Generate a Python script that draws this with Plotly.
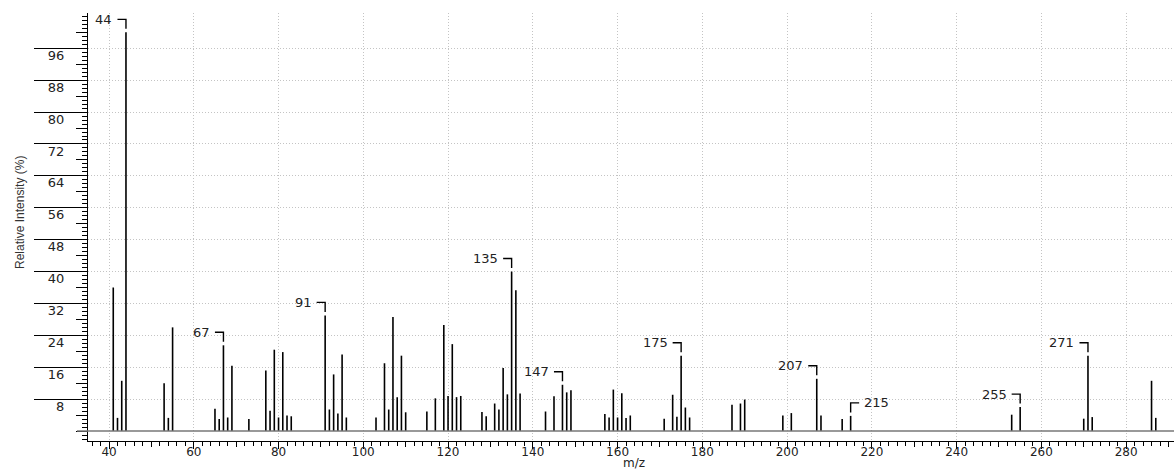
import plotly.graph_objects as go

# ---- data ----
mz = [41, 42, 43, 44, 53, 54, 55, 65, 66, 67, 68, 69, 73, 77, 78, 79, 80, 81, 82, 83,
      91, 92, 93, 94, 95, 96, 103, 105, 106, 107, 108, 109, 110, 115, 117, 119, 120,
      121, 122, 123, 128, 129, 131, 132, 133, 134, 135, 136, 137, 143, 145, 147, 148,
      149, 157, 158, 159, 160, 161, 162, 163, 171, 173, 174, 175, 176, 177, 187, 189,
      190, 199, 201, 207, 208, 213, 215, 253, 255, 270, 271, 272, 286, 287]
intensity = [36.0, 3.3, 12.6, 100.0, 12.0, 3.3, 26.0, 5.6, 3.0, 21.5, 3.4, 16.4, 3.0,
             15.2, 5.1, 20.4, 3.4, 19.8, 3.9, 3.7,
             29.0, 5.4, 14.2, 4.4, 19.2, 3.4, 3.4, 17.0, 5.4, 28.6, 8.5, 18.9, 4.7, 4.9,
             8.2, 26.6, 8.8, 21.8, 8.5, 8.8, 4.8, 3.7, 6.9, 5.4, 15.8, 9.2, 40.0, 35.3,
             9.4, 4.9, 8.7, 11.6, 9.7, 10.2, 4.3, 3.4, 10.4, 3.4, 9.5, 3.3, 3.9, 3.1,
             9.1, 3.6, 18.9, 5.9, 3.4, 6.6, 6.9, 7.9, 3.9, 4.5, 13.1, 3.9, 3.0, 3.8,
             4.1, 6.0, 3.1, 18.9, 3.5, 12.6, 3.3]
label_mz = [44, 67, 91, 135, 147, 175, 207, 215, 255, 271]
label_side = ["left", "left", "left", "left", "left", "left", "left", "right", "left", "left"]

x_major = list(range(40, 281, 20))
x_medium = list(range(50, 291, 20))
y_major = list(range(8, 97, 8))
y_medium = [0] + list(range(4, 101, 8))

X_RANGE = [35.04, 291.3]
Y_RANGE = [-2.5, 104.85]

FONT = "DejaVu Sans"
GRID = dict(showgrid=True, gridcolor="#c4c4c4", griddash="1px,2px", gridwidth=1)

# ---- build stick spectrum ----
xs, ys = [], []
for m, v in zip(mz, intensity):
    xs += [m, m, None]
    ys += [0, v, None]

fig = go.Figure()
fig.add_trace(go.Scatter(x=xs, y=ys, mode="lines",
                         line=dict(color="black", width=1.6),
                         hoverinfo="skip", showlegend=False))
# invisible trace to hold the overlay axes (medium ticks)
fig.add_trace(go.Scatter(x=[mz[0]], y=[0], xaxis="x2", yaxis="y2", mode="markers",
                         marker=dict(opacity=0), hoverinfo="skip", showlegend=False))

shapes = []
annotations = []
# baseline at 0
shapes.append(dict(type="line", xref="paper", yref="y", x0=(77 - 88) / 1086, x1=1,
                   y0=0, y1=0, line=dict(color="#777777", width=1.5)))

for m, side in zip(label_mz, label_side):
    v = intensity[mz.index(m)]
    if side == "left":
        path = "M -8.5,13 L 0,13 L 0,3.5"
        xanchor, xshift = "right", -11.5
    else:
        path = "M 0,3.5 L 0,13 L 8.5,13"
        xanchor, xshift = "left", 11.5
    shapes.append(dict(type="path", xref="x", yref="y", xsizemode="pixel",
                       ysizemode="pixel", xanchor=m, yanchor=v, path=path,
                       line=dict(color="black", width=1.4)))
    annotations.append(dict(text=str(m), x=m, y=v, xref="x", yref="y",
                            xanchor=xanchor, yanchor="middle", xshift=xshift,
                            yshift=13, showarrow=False,
                            font=dict(family=FONT, size=13, color="#222222")))

annotations.append(dict(text="Relative Intensity (%)", textangle=-90,
                        xref="paper", yref="paper", x=(20 - 88) / 1086,
                        y=(441 - 212) / 428, xanchor="center", yanchor="middle",
                        showarrow=False,
                        font=dict(family="Liberation Sans", size=12, color="#333333")))
annotations.append(dict(text="m/z", xref="paper", yref="paper",
                        x=(634 - 88) / 1086, y=(441 - 471.5) / 428,
                        xanchor="center", yanchor="bottom", showarrow=False,
                        borderpad=0,
                        font=dict(family=FONT, size=12, color="#222222")))

fig.update_layout(
    width=1174, height=472,
    margin=dict(l=88, r=0, t=13, b=31, pad=0),
    plot_bgcolor="white", paper_bgcolor="white",
    shapes=shapes, annotations=annotations,
    xaxis=dict(range=X_RANGE, tickmode="array", tickvals=x_major,
               ticktext=[str(v) for v in x_major], automargin=False,
               ticks="outside", ticklen=7, tickwidth=1, tickcolor="black",
               showline=True, linecolor="black", linewidth=1,
               zeroline=False, ticklabelstandoff=-7,
               tickfont=dict(family=FONT, size=12, color="#222222"),
               minor=dict(dtick=2, tick0=0, ticks="outside", ticklen=3.5,
                          tickcolor="black", showgrid=False),
               **GRID),
    yaxis=dict(range=Y_RANGE, tickmode="array", tickvals=y_major,
               ticktext=[str(v) for v in y_major], automargin=False,
               ticks="outside", ticklen=53, tickwidth=1, tickcolor="black",
               showline=True, linecolor="black", linewidth=1,
               zeroline=False,
               tickfont=dict(family=FONT, size=13, color="#222222"),
               ticklabelshift=7, ticklabelstandoff=-33,
               minor=dict(dtick=1, tick0=0, ticks="outside", ticklen=5,
                          tickcolor="black", showgrid=False),
               **GRID),
    xaxis2=dict(range=X_RANGE, overlaying="x", anchor="y", side="bottom",
                tickmode="array", tickvals=x_medium, ticks="outside", ticklen=5,
                tickcolor="black", showticklabels=False, showgrid=False,
                showline=False, zeroline=False, automargin=False),
    yaxis2=dict(range=Y_RANGE, overlaying="y", anchor="x", side="left",
                tickmode="array", tickvals=y_medium, ticks="outside", ticklen=11,
                tickcolor="black", showticklabels=False, showgrid=False,
                showline=False, zeroline=False, automargin=False),
)

fig.write_html("out.html")
